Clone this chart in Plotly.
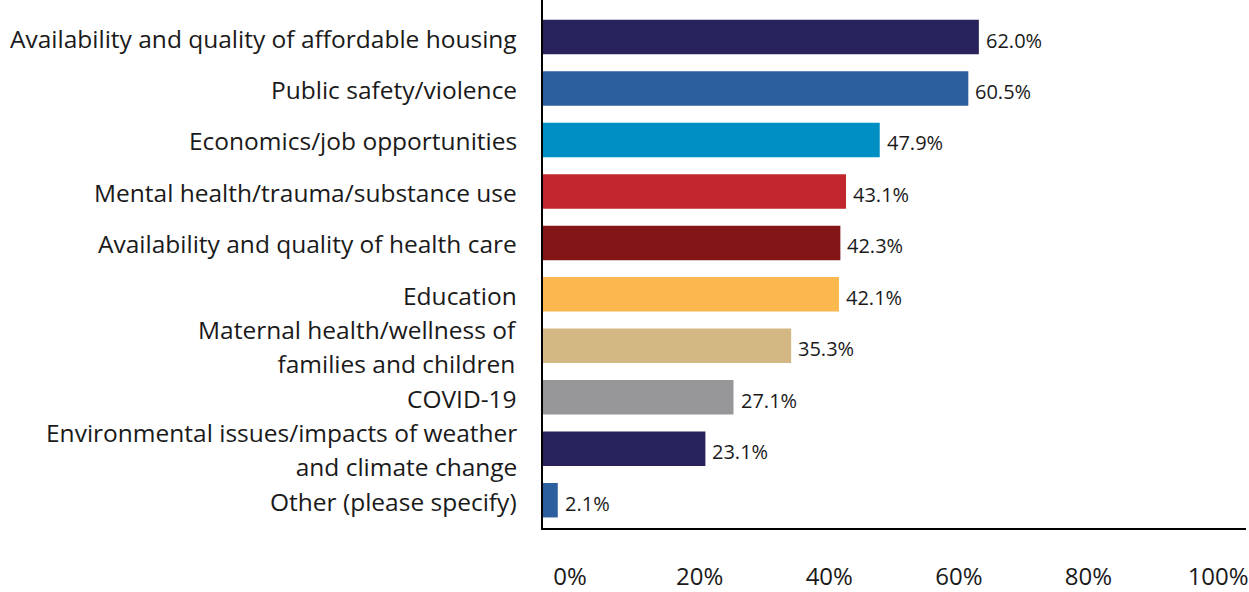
import plotly.graph_objects as go

categories = [
    "Availability and quality of affordable housing",
    "Public safety/violence",
    "Economics/job opportunities",
    "Mental health/trauma/substance use",
    "Availability and quality of health care",
    "Education",
    "Maternal health/wellness of<br>families and children",
    "COVID-19",
    "Environmental issues/impacts of weather<br>and climate change",
    "Other (please specify)",
]
values = [62.0, 60.5, 47.9, 43.1, 42.3, 42.1, 35.3, 27.1, 23.1, 2.1]
value_labels = ["62.0%", "60.5%", "47.9%", "43.1%", "42.3%", "42.1%", "35.3%", "27.1%", "23.1%", "2.1%"]
bar_colors = ["#29235c", "#2b5f9e", "#008fc4", "#c1272d", "#841517",
              "#fbb84f", "#d4b883", "#97979a", "#29235c", "#2b5f9e"]
tick_values = [0, 20, 40, 60, 80, 100]
tick_labels = ["0%", "20%", "40%", "60%", "80%", "100%"]

FONT = "Open Sans"
TEXT = "#1a1a1a"
LABEL_SIZE = 24.5
LINE_GAP = 34  # px between lines of a wrapped category label

fig = go.Figure()
fig.add_trace(go.Bar(
    x=values, y=categories, orientation="h",
    marker=dict(color=bar_colors, line=dict(width=0)),
    width=0.67, hoverinfo="skip",
))
# invisible helper trace so the labelled bottom axis is drawn
fig.add_trace(go.Scatter(x=[0, 100], y=[categories[0], categories[0]], xaxis="x2",
                         mode="markers", marker=dict(opacity=0), hoverinfo="skip",
                         showlegend=False))

# category labels: the base font size sets the line spacing,
# the span sets the glyph size
for cat in categories:
    lines = cat.split("<br>")
    styled = "<br>".join(
        f"<span style='font-size:{LABEL_SIZE}px'>{ln}</span>" for ln in lines)
    fig.add_annotation(x=0, xref="paper", y=cat, text=styled, showarrow=False,
                       xanchor="right", xshift=-24, yanchor="middle", align="right",
                       yshift=-1,
                       font=dict(family=FONT, size=LINE_GAP / 1.3, color=TEXT))

for cat, v, lab in zip(categories, values, value_labels):
    fig.add_annotation(x=v, y=cat, text=lab, showarrow=False, xanchor="left",
                       xshift=5, yshift=-3, font=dict(family=FONT, size=20, color=TEXT))

fig.update_layout(
    width=1249, height=592,
    margin=dict(l=543, r=3, t=0, b=57),
    paper_bgcolor="white", plot_bgcolor="white",
    showlegend=False,
    xaxis=dict(range=[0, 100], showgrid=False, zeroline=False, showticklabels=False,
               showline=True, linecolor="black", linewidth=2, ticks=""),
    xaxis2=dict(overlaying="x", anchor="y", side="bottom", range=[-4.17, 104.3],
                tickvals=tick_values, ticktext=tick_labels, showgrid=False,
                zeroline=False, showline=False, ticks="", ticklabelstandoff=32,
                tickfont=dict(family=FONT, size=24, color=TEXT)),
    yaxis=dict(type="category", categoryorder="array", categoryarray=categories,
               range=[9.54, -0.72], showgrid=False, zeroline=False,
               showticklabels=False,
               showline=True, linecolor="black", linewidth=2, ticks=""),
)

fig.write_html("out.html")
